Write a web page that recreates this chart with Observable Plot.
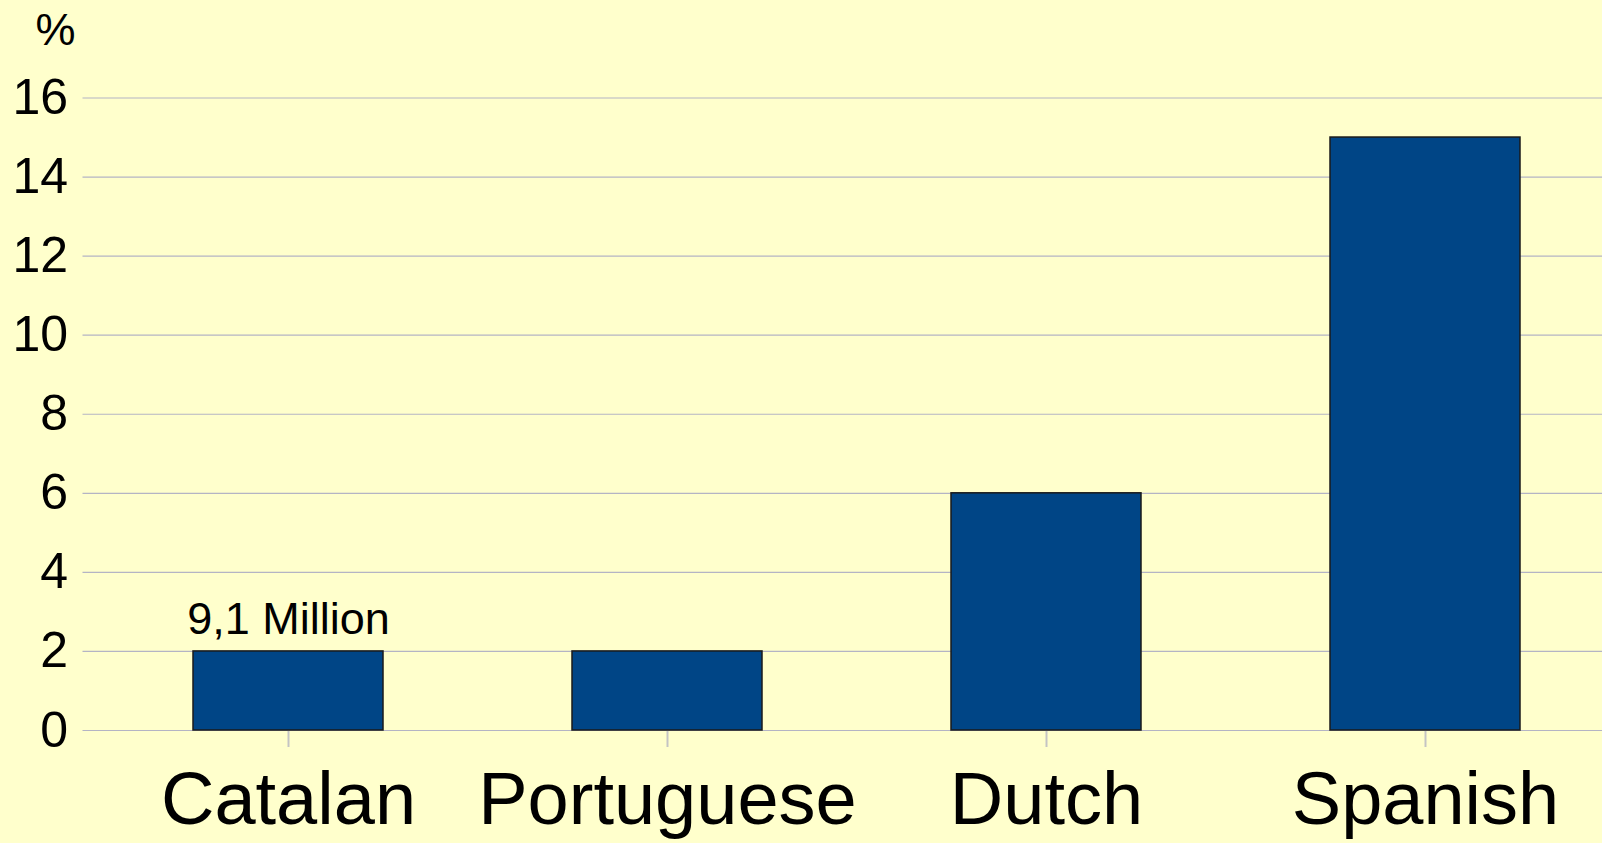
<!DOCTYPE html>
<html>
<head>
<meta charset="utf-8">
<script src="https://cdn.jsdelivr.net/npm/d3@7"></script>
<script src="https://cdn.jsdelivr.net/npm/@observablehq/plot@0.6"></script>
<style>
  html, body { margin: 0; padding: 0; background: #ffffcc; overflow: hidden; }
  #chart svg { display: block; }
</style>
</head>
<body>
<div id="chart"></div>
<script>
const languages = ["Catalan", "Portuguese", "Dutch", "Spanish"];
const percents = [2, 2, 6, 15];
const annotations = ["9,1 Million", "", "", ""];
const yTicks = [0, 2, 4, 6, 8, 10, 12, 14, 16];
const unitLabel = ["%"];

const data = languages.map((lang, i) => ({lang, value: percents[i], note: annotations[i]}));
const gridColor = "#b4b4c4";

const chart = Plot.plot({
  width: 1602,
  height: 843,
  marginLeft: 98.5,
  marginRight: -12.5,
  marginTop: 97.5,
  marginBottom: 113,
  style: {background: "#ffffcc", fontFamily: "'Liberation Sans', Arial, sans-serif", color: "#000"},
  x: {domain: languages, paddingInner: 0.5, paddingOuter: 0.25, align: 0.5},
  y: {domain: [0, 16]},
  marks: [
    Plot.ruleY(yTicks, {stroke: gridColor, strokeWidth: 1.2, strokeOpacity: 1, insetLeft: -16}),
    Plot.ruleX([0], {x: () => null, frameAnchor: "left", stroke: gridColor, strokeWidth: 1.2}),
    Plot.axisY({
      ticks: yTicks,
      tickSize: 0,
      tickPadding: 31,
      fontSize: 50,
      label: null
    }),
    Plot.text(unitLabel, {text: d => d, frameAnchor: "top-left", dx: -43.5, dy: -53, lineAnchor: "bottom", textAnchor: "middle", fontSize: 45, fill: "#000"}),
    Plot.axisX({
      tickSize: 17,
      tickPadding: 24,
      fontSize: 74,
      label: null,
      stroke: "#c4c4c4",
      strokeWidth: 2,
      strokeOpacity: 1
    }),
    Plot.barY(data, {x: "lang", y: "value", fill: "#004586", stroke: "#1a1a1a", strokeWidth: 1.5}),
    Plot.text(data, {x: "lang", y: "value", text: "note", dy: -32, fontSize: 45, fill: "#000"})
  ]
});
document.getElementById("chart").appendChild(chart);
</script>
</body>
</html>
